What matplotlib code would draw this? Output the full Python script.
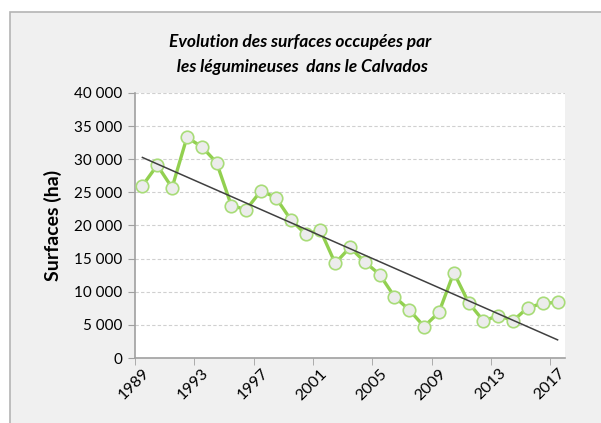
import numpy as np
import matplotlib.pyplot as plt
from matplotlib.patches import Rectangle
from matplotlib.ticker import FuncFormatter

years = list(range(1989, 2018))
surfaces = [26000, 29100, 25700, 33300, 31900, 29500, 23000, 22400, 25250, 24200,
            20900, 18700, 19300, 14300, 16700, 14500, 12600, 9250, 7250, 4750,
            6900, 12900, 8350, 5600, 6400, 5650, 7600, 8250, 8400]
tick_years = [1989, 1993, 1997, 2001, 2005, 2009, 2013, 2017]

plt.rcParams['font.family'] = ['Lato', 'DejaVu Sans']

fig = plt.figure(figsize=(6.01, 4.23), dpi=100)
fig.patch.set_facecolor('white')
# cadre gris du graphique
fig.patches.append(Rectangle((10 / 601, -0.1), 1.1, (423 - 12) / 423 + 0.1,
                             transform=fig.transFigure, facecolor='#f0f0f0',
                             edgecolor='#b4b4b4', linewidth=1.2, zorder=-5))

ax = fig.add_axes([135 / 601, 1 - 358 / 423, 430 / 601, 265 / 423])
ax.set_zorder(2)
ax.set_facecolor('white')

x = np.arange(len(years))
ax.plot(x, surfaces, color='#92d050', linewidth=2.4, marker='o', markersize=9,
        markerfacecolor='#ececec', markeredgecolor='#a8dc78', markeredgewidth=1.2,
        zorder=3)

# droite de tendance linéaire
coef = np.polyfit(x, surfaces, 1)
ax.plot([x[0], x[-1]], np.polyval(coef, [x[0], x[-1]]), color='#404040',
        linewidth=1.1, zorder=4)

ax.set_xlim(-0.5, len(years) - 0.5)
ax.set_ylim(0, 40000)
ax.set_yticks(range(0, 40001, 5000))
ax.yaxis.set_major_formatter(FuncFormatter(lambda v, p: f"{int(v):,}".replace(",", " ")))
ax.grid(axis='y', color='#d0d0d0', linestyle=(0, (3, 2)), linewidth=0.8)
ax.set_axisbelow(True)

ax.set_xticks([years.index(y) for y in tick_years])
ax.set_xticklabels([str(y) for y in tick_years], rotation=45, ha='right',
                   rotation_mode='anchor', fontsize=11.5)
ax.set_xticks(np.arange(-0.5, len(years), 4), minor=True)
ax.tick_params(axis='x', which='major', length=0, pad=6)
ax.tick_params(axis='x', which='minor', length=5, color='#a0a0a0')
ax.tick_params(axis='y', length=5, color='#a0a0a0', labelsize=11, pad=4)

for side in ['top', 'right']:
    ax.spines[side].set_visible(False)
for side in ['left', 'bottom']:
    ax.spines[side].set_color('#a0a0a0')
    ax.spines[side].set_linewidth(1.2)

ax.set_ylabel('Surfaces (ha)', fontsize=14, fontweight='bold', labelpad=9)

fig.text(300 / 601, 1 - 42 / 423, 'Evolution des surfaces occupées par',
         ha='center', va='center', fontsize=12.5, fontweight='bold', style='italic')
fig.text(300 / 601, 1 - 67 / 423, ' les légumineuses  dans le Calvados',
         ha='center', va='center', fontsize=12.5, fontweight='bold', style='italic')

fig.savefig('out.png', dpi=100, facecolor=fig.get_facecolor())
